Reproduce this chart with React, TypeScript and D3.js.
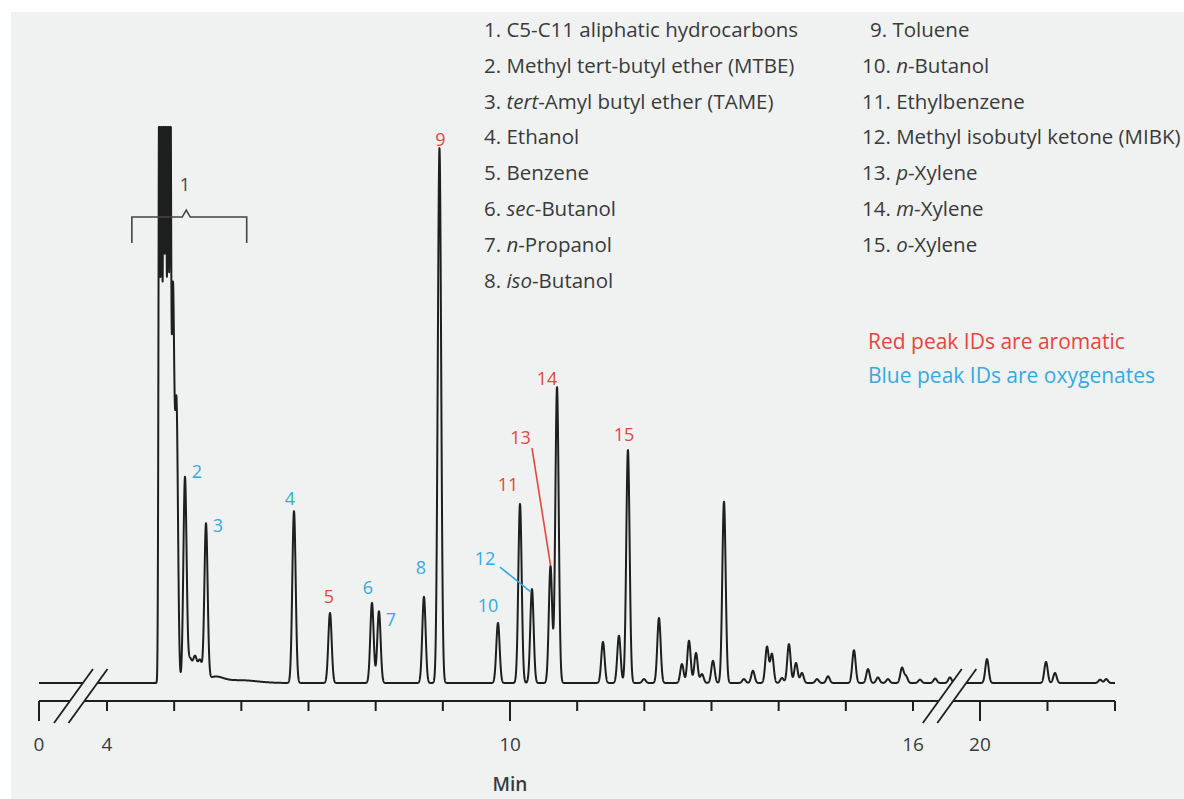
import * as d3 from "d3";

// retention time (min), apex height (% of full scale), peak sigma (min)
const retentionTimes = [
  4.778, 4.811, 4.844, 4.876, 4.909, 4.942, 4.981, 5.035, 5.161, 5.236, 5.31, 5.385, 5.474, 5.608, 5.98,
  6.784, 7.32, 7.945, 8.049, 8.719, 8.95, 9.821, 10.149, 10.327, 10.603, 10.7,
  11.384, 11.622, 11.756, 11.995, 12.218, 12.56, 12.665, 12.769, 12.858, 13.022, 13.186,
  13.483, 13.617, 13.826, 13.9, 14.049, 14.153, 14.258, 14.347, 14.571, 14.735,
  15.121, 15.33, 15.478, 15.627, 15.836, 15.895, 16.104, 16.33, 16.55,
  20.104, 20.978, 21.111, 21.78, 21.87,
];
const peakHeights = [
  115, 110, 112, 110, 115, 108, 69.4, 49.5, 36.9, 4.1, 4.5, 3.8, 28.1, 1.0, 0.5,
  30.9, 12.6, 14.4, 12.9, 15.5, 96.2, 10.8, 32.2, 16.9, 21.0, 53.2,
  7.4, 8.5, 41.9, 0.7, 11.7, 3.4, 7.6, 5.4, 1.6, 4.0, 32.6,
  0.7, 2.2, 6.5, 5.2, 0.9, 7.0, 3.6, 1.8, 0.7, 1.2,
  5.9, 2.5, 1.0, 0.7, 2.7, 1.2, 0.6, 0.8, 1.0,
  4.3, 3.8, 1.8, 0.6, 0.7,
];
const peakSigmas = [
  0.011, 0.011, 0.011, 0.011, 0.011, 0.011, 0.02, 0.022, 0.024, 0.03, 0.03, 0.03, 0.024, 0.12, 0.25,
];
const defaultSigma = 0.025;

// identified peaks
const peakIds = ["2", "3", "4", "5", "6", "7", "8", "9", "10", "11", "12", "13", "14", "15"];
const peakIdTimes = [5.161, 5.474, 6.784, 7.32, 7.945, 8.049, 8.719, 8.95, 9.821, 10.149, 10.327, 10.603, 10.7, 11.756];
const peakIdClass = ["oxy", "oxy", "oxy", "aro", "oxy", "oxy", "oxy", "aro", "oxy", "aro", "oxy", "aro", "aro", "aro"];

const compoundPrefix = ["", "", "tert", "", "", "sec", "n", "iso", "", "n", "", "", "p", "m", "o"];
const compoundNames = [
  "C5-C11 aliphatic hydrocarbons",
  "Methyl tert-butyl ether (MTBE)",
  "-Amyl butyl ether (TAME)",
  "Ethanol",
  "Benzene",
  "-Butanol",
  "-Propanol",
  "-Butanol",
  "Toluene",
  "-Butanol",
  "Ethylbenzene",
  "Methyl isobutyl ketone (MIBK)",
  "-Xylene",
  "-Xylene",
  "-Xylene",
];

const tickValues = [0, 4, 5, 6, 7, 8, 9, 10, 11, 12, 13, 14, 15, 16, 20, 21, 22];
const majorTicks = [0, 10, 20];
const tickLabels = [0, 4, 10, 16, 20];

const RED = "#e9443c";
const BLUE = "#36a9e1";
const INK = "#1e1e1e";
const TEXT = "#3a3a3a";
const BG = "#f0f2f2";
const FONT = "'Open Sans', 'DejaVu Sans', sans-serif";

// label offsets from apex (layout only)
const labelOffset: Record<string, [number, number]> = {
  "2": [12, -5], "3": [12, 2], "4": [-4, -13], "5": [-1, -16], "6": [-4, -15], "7": [12, 8],
  "8": [-3, -29], "9": [1, -9], "10": [-10, -17], "11": [-12, -19], "12": [-47, -31],
  "13": [-30, -129], "14": [-10, -9], "15": [-4, -16],
};

export default function App() {
  const width = 1184;
  const height = 799;
  const baseY = 683;
  const axisY = 701;

  const x = d3.scaleLinear().domain([0, 4, 16.6, 19.95, 22]).range([39, 107, 953.3, 976.6, 1115]);
  const y = d3.scaleLinear().domain([0, 100]).range([baseY, 127]);

  const signal = (t: number) => {
    let s = 0;
    for (let i = 0; i < retentionTimes.length; i++) {
      const w = peakSigmas[i] ?? defaultSigma;
      const d = (t - retentionTimes[i]) / w;
      if (Math.abs(d) < 8) s += peakHeights[i] * Math.exp(-0.5 * d * d);
    }
    return Math.min(s, 100);
  };

  const times = [0, ...d3.range(4, 22.0001, 0.0015)];
  const line = d3.line<number>().x((t) => x(t)).y((t) => y(signal(t)));
  const tracePath = line(times) ?? "";

  // broken-axis slashes (centre x at mid height)
  const slash = (cx: number) => `M${cx - 19.5},723 L${cx + 19.5},669`;
  const gap = (c1: number, c2: number) =>
    `M${c1 - 19.5},723 L${c1 + 19.5},669 L${c2 + 19.5},669 L${c2 - 19.5},723 Z`;
  const breaks = [[x(2.5) - 8, x(2.5) + 6.5], [x(16.6) - 11, x(16.6) + 3.5]];

  // bracket for peak group 1
  const bl = x(4.37);
  const br = x(6.08);
  const bm = x(5.18);
  const by = y(83.8);
  const bracket = `M${bl},${by + 26} V${by} H${bm - 4} L${bm},${by - 7} L${bm + 4},${by} H${br} V${by + 26}`;

  const legendLeft = 484;
  const legendRight = 862;
  const legendTop = 37;
  const legendStep = 35.8;

  return (
    <svg width={width} height={height} style={{ position: "absolute", left: 0, top: 0 }} fontFamily={FONT}>
      <rect x={0} y={0} width={width} height={height} fill="#ffffff" />
      <rect x={11} y={12} width={width - 11} height={height - 12} fill={BG} />

      {/* legend */}
      {compoundNames.map((name, i) => {
        const right = i >= 8;
        const row = right ? i - 8 : i;
        const xx = right ? legendRight + (i + 1 < 10 ? 8 : 0) : legendLeft;
        return (
          <text key={i} x={xx} y={legendTop + row * legendStep} fontSize={20.5} fill={TEXT}>
            {`${i + 1}. `}
            {compoundPrefix[i] && <tspan fontStyle="italic">{compoundPrefix[i]}</tspan>}
            {name}
          </text>
        );
      })}
      <text x={868} y={349} fontSize={21} fill={RED}>Red peak IDs are aromatic</text>
      <text x={868} y={383} fontSize={21} fill={BLUE}>Blue peak IDs are oxygenates</text>

      {/* chromatogram */}
      <path d={tracePath} fill="none" stroke={INK} strokeWidth={2} strokeLinejoin="round" />

      {/* axis */}
      <line x1={x(0)} x2={x(22)} y1={axisY} y2={axisY} stroke={INK} strokeWidth={2} />
      {tickValues.map((t) => (
        <line key={t} x1={x(t)} x2={x(t)} y1={axisY} y2={axisY + (majorTicks.includes(t) ? 20 : 10)} stroke={INK} strokeWidth={2} />
      ))}
      {tickLabels.map((t) => (
        <text key={t} x={x(t)} y={751} fontSize={19} fill={TEXT} textAnchor="middle">{t}</text>
      ))}
      <text x={x(10)} y={791} fontSize={19} fontWeight={600} fill={TEXT} textAnchor="middle">Min</text>

      {/* axis breaks */}
      {breaks.map(([c1, c2], i) => (
        <g key={i}>
          <path d={gap(c1, c2)} fill={BG} />
          <path d={slash(c1)} stroke={INK} strokeWidth={1.8} />
          <path d={slash(c2)} stroke={INK} strokeWidth={1.8} />
        </g>
      ))}

      {/* peak 1 bracket */}
      <path d={bracket} fill="none" stroke="#444" strokeWidth={1.6} />
      <text x={x(5.16)} y={y(89.6) + 6} fontSize={18} fill="#444" textAnchor="middle">1</text>

      {/* peak IDs */}
      {peakIds.map((id, i) => {
        const t = peakIdTimes[i];
        const ax = x(t);
        const ay = y(signal(t));
        const [dx, dy] = labelOffset[id];
        const color = peakIdClass[i] === "aro" ? RED : BLUE;
        return (
          <g key={id}>
            {id === "12" && <line x1={ax - 32} y1={ay - 22} x2={ax - 1} y2={ay + 3} stroke={color} strokeWidth={1.6} />}
            {id === "13" && <line x1={ax - 18.5} y1={ay - 118} x2={ax} y2={ay - 1} stroke={color} strokeWidth={1.6} />}
            <text x={ax + dx} y={ay + dy + 6.5} fontSize={18} fontWeight={500} fill={color} textAnchor="middle">{id}</text>
          </g>
        );
      })}
    </svg>
  );
}
